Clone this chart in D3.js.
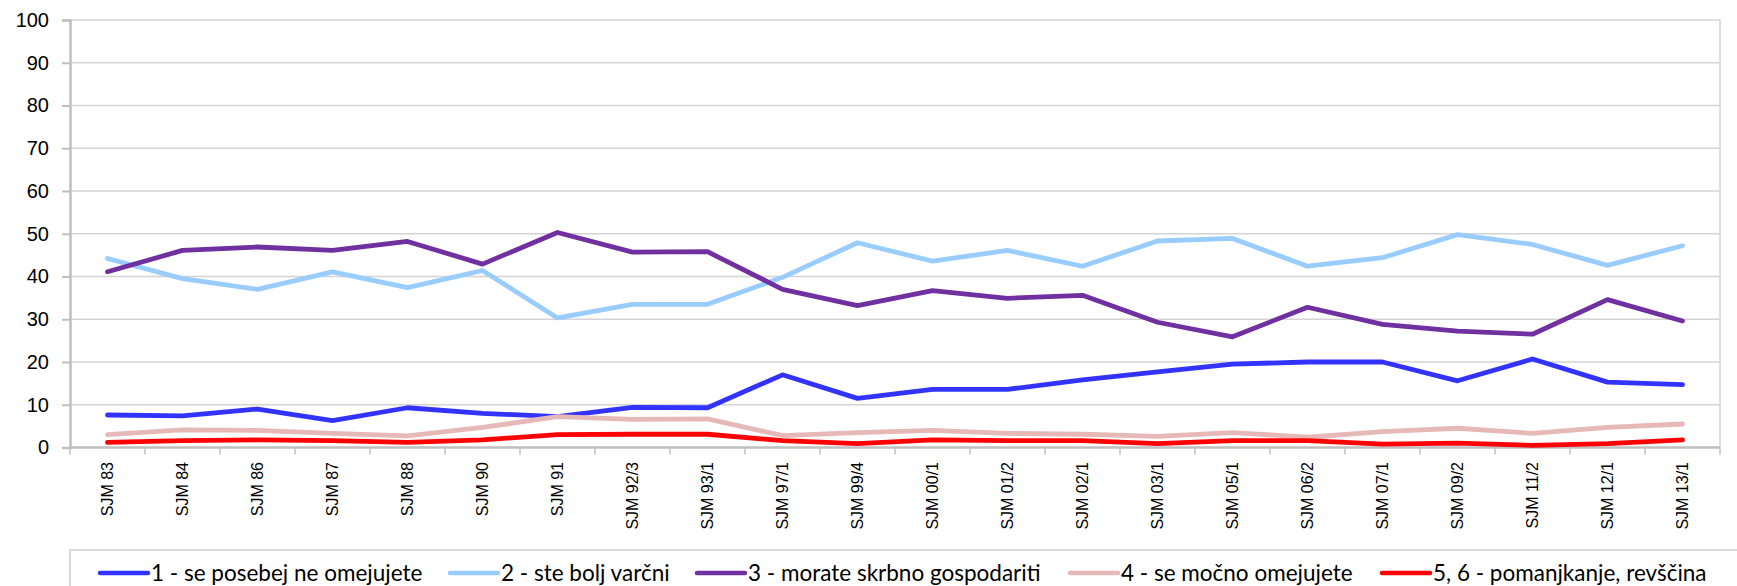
<!DOCTYPE html>
<html lang="sl">
<head>
<meta charset="UTF-8">
<title>SJM</title>
<script src="https://d3js.org/d3.v7.min.js"></script>
<style>
  body{ margin:0; background:#fff; }
  svg{ display:block; }
</style>
</head>
<body>
<div id="chart"></div>
<script>
var categories = ["SJM 83","SJM 84","SJM 86","SJM 87","SJM 88","SJM 90","SJM 91","SJM 92/3","SJM 93/1","SJM 97/1","SJM 99/4","SJM 00/1","SJM 01/2","SJM 02/1","SJM 03/1","SJM 05/1","SJM 06/2","SJM 07/1","SJM 09/2","SJM 11/2","SJM 12/1","SJM 13/1"];
var seriesNames = ["1 - se posebej ne omejujete","2 - ste bolj varčni","3 - morate skrbno gospodariti","4 - se močno omejujete","5, 6 - pomanjkanje, revščina"];
var s1 = [7.6,7.4,9.0,6.3,9.3,8.0,7.2,9.4,9.3,17.0,11.5,13.6,13.6,15.8,17.7,19.5,20.0,20.0,15.6,20.7,15.3,14.7];
var s2 = [44.2,39.5,37.0,41.1,37.4,41.4,30.3,33.5,33.5,39.8,47.9,43.6,46.1,42.4,48.3,48.9,42.4,44.4,49.8,47.5,42.6,47.2];
var s3 = [41.1,46.1,46.9,46.1,48.2,42.9,50.3,45.7,45.8,37.0,33.2,36.7,34.9,35.6,29.3,25.9,32.8,28.8,27.2,26.5,34.6,29.6];
var s4 = [3.0,4.1,4.0,3.3,2.7,4.7,7.2,6.6,6.7,2.8,3.5,4.0,3.3,3.1,2.6,3.5,2.4,3.7,4.5,3.3,4.7,5.5];
var s5 = [1.2,1.6,1.8,1.6,1.2,1.8,3.0,3.1,3.1,1.6,0.9,1.8,1.6,1.6,0.9,1.6,1.6,0.8,1.0,0.5,0.9,1.8];
var yTicks = [0,10,20,30,40,50,60,70,80,90,100];
var colors = ["#3333ff","#99ccff","#7030a0","#e6b9b8","#ff0000"];

var W = 1737, H = 586;
var plotLeft = 70, plotRight = 1720, plotTop = 20, plotBottom = 447.5;

var svg = d3.select('#chart').append('svg')
  .attr('width', W).attr('height', H);

var x = d3.scaleBand().domain(categories).range([plotLeft, plotRight]);
var y = d3.scaleLinear().domain([0, 100]).range([plotBottom, plotTop]);

// grid
svg.append('g').selectAll('line').data(yTicks.slice(1)).enter().append('line')
  .attr('x1', plotLeft).attr('x2', plotRight)
  .attr('y1', function(d){ return y(d); }).attr('y2', function(d){ return y(d); })
  .attr('stroke', '#d4d4d4').attr('stroke-width', 1.5);
// right border
svg.append('line').attr('x1', plotRight).attr('x2', plotRight).attr('y1', plotTop).attr('y2', plotBottom)
  .attr('stroke', '#d4d4d4').attr('stroke-width', 1.5);

// y axis
var yAxis = d3.axisLeft(y).tickValues(yTicks).tickSize(8).tickPadding(13);
var gy = svg.append('g').attr('transform', 'translate(' + plotLeft + ',0)').call(yAxis);
gy.select('.domain').attr('stroke', '#bfbfbf').attr('stroke-width', 2.5);
gy.selectAll('.tick line').attr('stroke', '#bfbfbf').attr('stroke-width', 2);
gy.selectAll('text').attr('font-family', 'Liberation Sans, Arial, sans-serif')
  .attr('font-size', 20).attr('fill', '#000');

// x axis
svg.append('line').attr('x1', plotLeft).attr('x2', plotRight).attr('y1', plotBottom).attr('y2', plotBottom)
  .attr('stroke', '#bfbfbf').attr('stroke-width', 2.5);
var bounds = categories.map(function(c){ return x(c); }).concat([plotRight]);
svg.append('g').selectAll('line').data(bounds).enter().append('line')
  .attr('x1', function(d){ return d; }).attr('x2', function(d){ return d; })
  .attr('y1', plotBottom).attr('y2', plotBottom + 7)
  .attr('stroke', '#bfbfbf').attr('stroke-width', 1.5);
svg.append('g').selectAll('text').data(categories).enter().append('text')
  .attr('transform', function(d){
    return 'translate(' + (x(d) + x.bandwidth() / 2 + 5.5) + ',' + 462 + ') rotate(-90)';
  })
  .attr('text-anchor', 'end')
  .attr('font-family', 'Liberation Sans, Arial, sans-serif')
  .attr('font-size', 16)
  .text(function(d){ return d; });

// lines
var series = [s1, s2, s3, s4, s5];
var line = d3.line()
  .x(function(d, i){ return x(categories[i]) + x.bandwidth() / 2; })
  .y(function(d){ return y(d); });
svg.append('g').selectAll('path').data(series).enter().append('path')
  .attr('d', function(d){ return line(d); })
  .attr('fill', 'none')
  .attr('stroke', function(d, i){ return colors[i]; })
  .attr('stroke-width', 4.8)
  .attr('stroke-linejoin', 'round')
  .attr('stroke-linecap', 'round');

// legend
svg.append('rect').attr('x', 70).attr('y', 550).attr('width', 1670).attr('height', 60)
  .attr('fill', 'none').attr('stroke', '#d0d0d0').attr('stroke-width', 1.5);
var legendX = [100, 450, 697, 1070, 1382];
var ly = 573;
var lg = svg.append('g').selectAll('g').data(seriesNames).enter().append('g')
  .attr('transform', function(d, i){ return 'translate(' + legendX[i] + ',' + ly + ')'; });
lg.append('line').attr('x1', 0).attr('x2', 48)
  .attr('stroke', function(d, i){ return colors[i]; })
  .attr('stroke-width', 4.5).attr('stroke-linecap', 'round');
lg.append('text').attr('x', 51).attr('y', 7.5)
  .attr('font-family', 'Lato, sans-serif').attr('font-size', 22.5)
  .text(function(d){ return d; });
</script>
</body>
</html>
